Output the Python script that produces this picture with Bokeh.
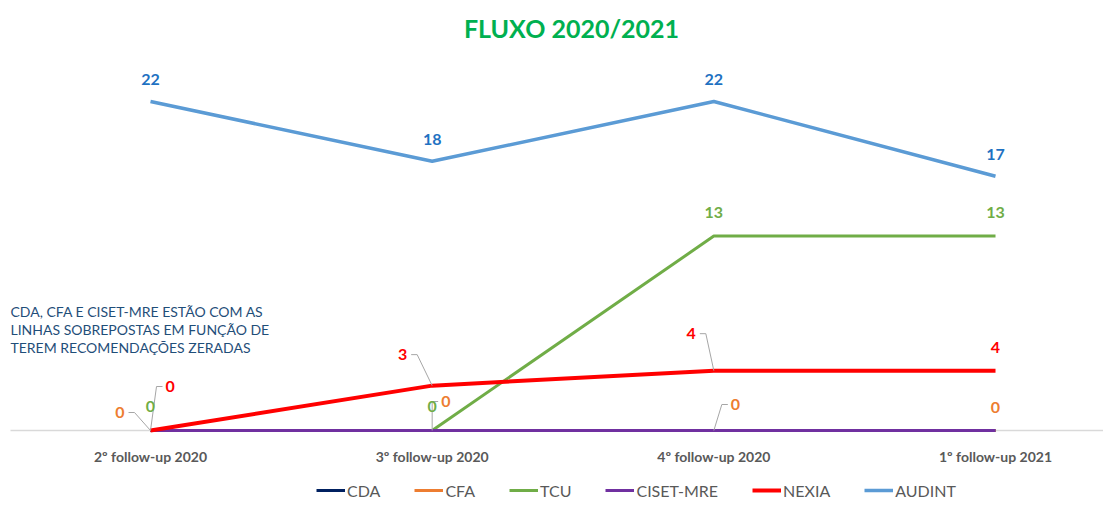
from bokeh.plotting import figure
from bokeh.models import (ColumnDataSource, Range1d, LinearAxis, FixedTicker, Legend,
                          LegendItem, LabelSet, Label)
from bokeh.core.properties import value
from bokeh.embed import file_html
from bokeh.resources import INLINE

# ---------------- data ----------------
categories = ["2º follow-up 2020", "3º follow-up 2020", "4º follow-up 2020", "1º follow-up 2021"]
series_names = ["CDA", "CFA", "TCU", "CISET-MRE", "NEXIA", "AUDINT"]
cda = [0, 0, 0, 0]
cfa = [0, 0, 0, 0]
tcu = [0, 0, 13, 13]
ciset = [0, 0, 0, 0]
nexia = [0, 3, 4, 4]
audint = [22, 18, 22, 17]
title_text = "FLUXO 2020/2021"
note_text = ("CDA, CFA E CISET-MRE ESTÃO COM AS\n"
             "LINHAS SOBREPOSTAS EM FUNÇÃO DE\n"
             "TEREM RECOMENDAÇÕES ZERADAS")

# ---------------- styles ----------------
colors = {"CDA": "#002060", "CFA": "#ED7D31", "TCU": "#70AD47",
          "CISET-MRE": "#7030A0", "NEXIA": "#FF0000", "AUDINT": "#5B9BD5"}
label_colors = {"CFA": "#ED7D31", "TCU": "#70AD47", "NEXIA": "#FF0000", "AUDINT": "#1F72C2"}
widths = {"CDA": 3, "CFA": 3, "TCU": 3, "CISET-MRE": 3, "NEXIA": 4, "AUDINT": 3.5}
FONT = "Lato"

W, H = 1103, 499
X_PX = 281.67   # pixels per category step
Y_PX = 14.955   # pixels per unit
x0_px, y0_px = 150, 430  # position of (0, 0) inside the frame (from left / top)

# label placement: (dx px, dy px up, align, leader)
label_spec = {
    "AUDINT": [(0, 22, "center", False)] * 4,
    "TCU": [(0, 24, "center", False)] * 4,
    "NEXIA": [(15, 44, "left", True), (-25, 31, "right", True),
              (-18, 37, "right", True), (0, 23, "center", False)],
    "CFA": [(-26, 18, "right", True), (9, 29, "left", True),
            (17, 26, "left", True), (0, 23, "center", False)],
}

values = {"CDA": cda, "CFA": cfa, "TCU": tcu, "CISET-MRE": ciset, "NEXIA": nexia, "AUDINT": audint}
xs = list(range(len(categories)))

p = figure(width=W, height=H, output_backend="svg", toolbar_location=None,
           x_range=Range1d(-x0_px / X_PX, (W - x0_px) / X_PX),
           y_range=Range1d(-(H - y0_px) / Y_PX, y0_px / Y_PX),
           x_axis_type=None, y_axis_type=None, min_border=0)
p.outline_line_color = None
p.xgrid.visible = False
p.ygrid.visible = False
p.background_fill_color = "white"
p.border_fill_color = "white"

xaxis = LinearAxis(fixed_location=0, ticker=FixedTicker(ticks=xs),
                   major_label_overrides={i: c for i, c in enumerate(categories)},
                   bounds=(-(x0_px - 10) / X_PX, (W - x0_px) / X_PX))
xaxis.level = "underlay"
xaxis.axis_line_color = "#D9D9D9"
xaxis.axis_line_width = 1.5
xaxis.major_tick_line_color = None
xaxis.minor_tick_line_color = None
xaxis.major_tick_out = 0
xaxis.major_tick_in = 0
xaxis.major_label_standoff = 17
xaxis.major_label_text_font = FONT
xaxis.major_label_text_font_style = "bold"
xaxis.major_label_text_font_size = "14px"
xaxis.major_label_text_color = "#595959"
p.add_layout(xaxis, "below")

renderers = {}
for name in series_names:
    r = p.line(xs, values[name], line_color=colors[name], line_width=widths[name])
    renderers[name] = r

# leader lines and labels
lead_xs, lead_ys = [], []
for name, spec in label_spec.items():
    vals = values[name]
    for align in ("left", "center", "right"):
        idx = [i for i in xs if spec[i][2] == align]
        if not idx:
            continue
        src = ColumnDataSource(dict(
            x=[xs[i] for i in idx], y=[vals[i] for i in idx],
            t=[str(vals[i]) for i in idx],
            dx=[spec[i][0] for i in idx], dy=[spec[i][1] for i in idx]))
        ls = LabelSet(x="x", y="y", text="t", x_offset="dx", y_offset="dy", source=src,
                      text_align=align, text_baseline="middle",
                      text_font=value(FONT), text_font_style="bold", text_font_size="16px",
                      text_color=label_colors[name])
        p.add_layout(ls)
    for i in xs:
        dx, dy, align, leader = spec[i]
        if not leader:
            continue
        if align == "left":
            end_px, elbow_px = dx - 3, dx - 9
        else:
            end_px, elbow_px = dx + 4, dx + 10
        x, y = xs[i], vals[i]
        lead_xs.append([x, x + elbow_px / X_PX, x + end_px / X_PX])
        lead_ys.append([y, y + dy / Y_PX, y + dy / Y_PX])
p.multi_line(lead_xs, lead_ys, line_color="#A6A6A6", line_width=1)

# title & note
p.add_layout(Label(x=(571 - x0_px) / X_PX, y=(y0_px - 27) / Y_PX, text=title_text,
                   text_align="center", text_baseline="middle", text_font=FONT,
                   text_font_style="bold", text_font_size="25px", text_color="#00B050"))
p.add_layout(Label(x=(10 - x0_px) / X_PX, y=(y0_px - 302) / Y_PX, text=note_text,
                   text_align="left", text_baseline="top", text_font=FONT,
                   text_font_size="14px", text_color="#1F4E79", text_line_height=1.08))

legend = Legend(items=[LegendItem(label=n, renderers=[renderers[n]]) for n in series_names],
                orientation="horizontal", location=(316, -1),
                label_text_font=FONT, label_text_font_size="16px", label_text_color="#595959",
                glyph_width=29, label_standoff=2, spacing=34, padding=0, margin=0,
                border_line_color=None, background_fill_alpha=0)
p.add_layout(legend, "center")

open("out.html", "w").write(file_html(p, INLINE))
